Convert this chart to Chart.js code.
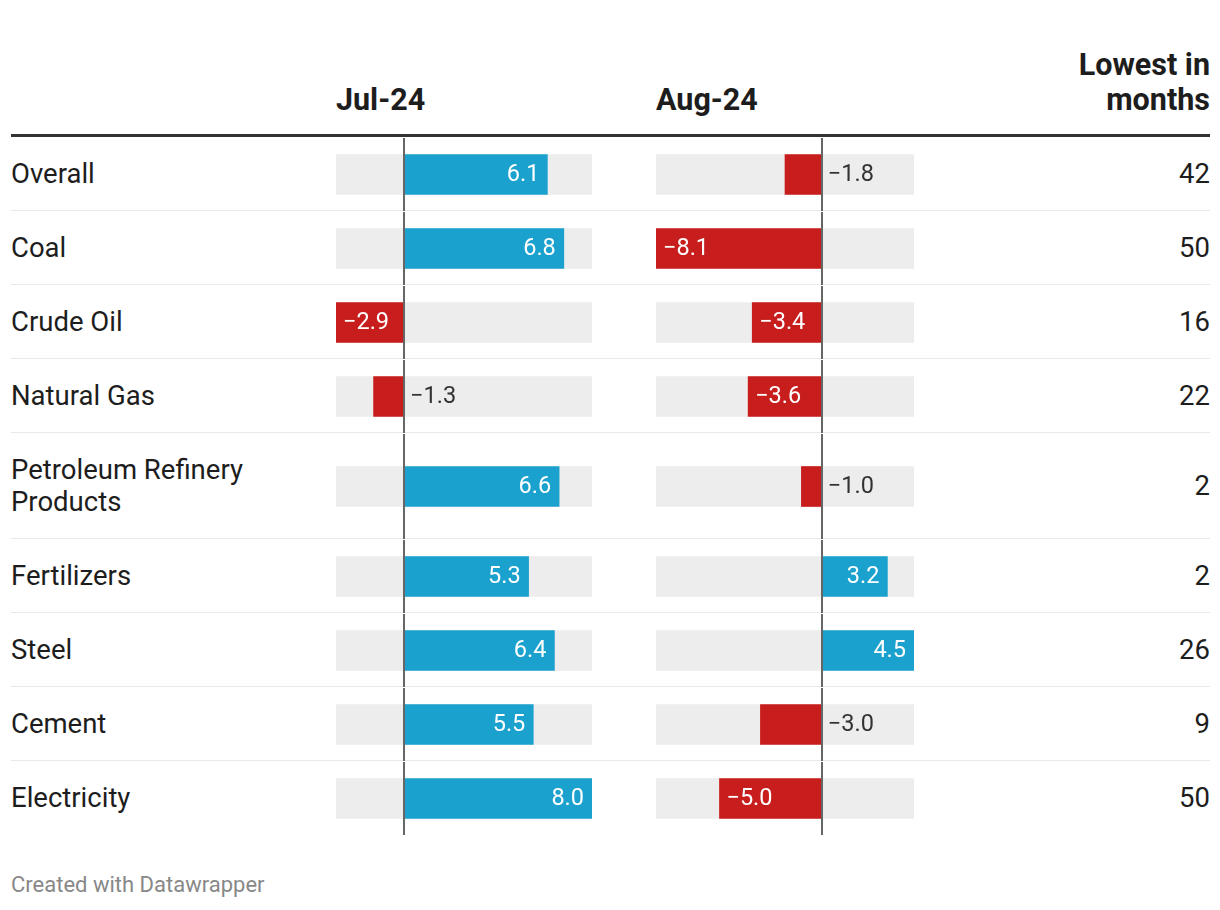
<!DOCTYPE html>
<html>
<head>
<meta charset="utf-8">
<script src="https://cdn.jsdelivr.net/npm/chart.js@4.4.1/dist/chart.umd.min.js"></script>
<style>
  body { margin: 0; background: #fff; font-family: Roboto, sans-serif; color: #1d1d1d; }
  #wrap { position: absolute; left: 11px; top: 0; width: 1199px; }
  .head { display: flex; align-items: flex-end; height: 117px; padding-bottom: 17px; border-bottom: 3px solid #333; }
  .head div { font-weight: 700; font-size: 30.5px; line-height: 35px; }
  .row { display: flex; border-bottom: 1px solid #e9e9e9; }
  .row:last-child { border-bottom: none; }
  .lab { width: 325px; font-size: 27.5px; line-height: 32px; padding: 21px 0 20px; }
  .lab span { display: block; max-width: 290px; }
  .c-jul { width: 256px; }
  .gap { width: 64px; }
  .c-aug { width: 258px; }
  .num { flex: 1; font-size: 27.5px; display: flex; align-items: center; justify-content: flex-end; }
  .cell { position: relative; }
  .cell .in { position: absolute; left: 0; top: 1px; right: 0; bottom: -1px; }
  .foot { margin-top: 38px; font-size: 22px; color: #888; }
</style>
</head>
<body>
<div id="wrap">
  <div class="head">
    <div style="width:325px"></div>
    <div class="c-jul" id="h1"></div>
    <div class="gap"></div>
    <div class="c-aug" id="h2"></div>
    <div style="flex:1;text-align:right" id="h3"></div>
  </div>
  <div id="rows"></div>
  <div class="foot">Created with Datawrapper</div>
</div>
<script>
const categories = ['Overall', 'Coal', 'Crude Oil', 'Natural Gas', 'Petroleum Refinery Products',
  'Fertilizers', 'Steel', 'Cement', 'Electricity'];
const jul24 = [6.1, 6.8, -2.9, -1.3, 6.6, 5.3, 6.4, 5.5, 8.0];
const aug24 = [-1.8, -8.1, -3.4, -3.6, -1.0, 3.2, 4.5, -3.0, -5.0];
const lowestInMonths = [42, 50, 16, 22, 2, 2, 26, 9, 50];

document.getElementById('h1').textContent = 'Jul-24';
document.getElementById('h2').textContent = 'Aug-24';
document.getElementById('h3').innerHTML = 'Lowest in<br>months';

const blue = '#1aa1cd';
const red = '#c71e1d';
const track = '#ededed';

function fmt(v) {
  const s = Math.abs(v).toFixed(1);
  return v < 0 ? '\u2212' + s : s;
}

// zero line + value label on each little bar chart
const barLook = {
  id: 'barLook',
  afterDatasetsDraw(chart) {
    const ctx = chart.ctx;
    const x = chart.scales.x;
    const area = chart.chartArea;
    const zx = Math.round(x.getPixelForValue(0));
    ctx.save();
    ctx.strokeStyle = '#666';
    ctx.lineWidth = 2;
    ctx.beginPath();
    ctx.moveTo(zx, area.top - 1);
    ctx.lineTo(zx, area.bottom + 1);
    ctx.stroke();

    const bar = chart.getDatasetMeta(0).data[0];
    const v = chart.data.datasets[0].data[0];
    const txt = fmt(v);
    ctx.font = '400 23.5px Roboto';
    ctx.textBaseline = 'middle';
    const w = ctx.measureText(txt).width;
    const len = Math.abs(bar.x - bar.base);
    if (len > w + 16) {
      ctx.fillStyle = '#fff';
      if (v >= 0) { ctx.textAlign = 'right'; ctx.fillText(txt, bar.x - 8, bar.y + 1); }
      else { ctx.textAlign = 'left'; ctx.fillText(txt, bar.x + 7, bar.y + 1); }
    } else {
      ctx.fillStyle = '#333';
      ctx.textAlign = 'left';
      ctx.fillText(txt, (v >= 0 ? bar.x : bar.base) + 6, bar.y + 1);
    }
    ctx.restore();
  }
};

function makeBar(el, label, value, values) {
  const lo = Math.min(0, ...values);
  const hi = Math.max(0, ...values);
  new Chart(el, {
    type: 'bar',
    data: {
      labels: [label],
      datasets: [
        { data: [value], backgroundColor: value < 0 ? red : blue, order: 1 },
        { data: [[lo, hi]], backgroundColor: track, order: 2 }
      ]
    },
    options: {
      indexAxis: 'y',
      responsive: true,
      maintainAspectRatio: false,
      animation: false,
      layout: { padding: 0 },
      datasets: { bar: { grouped: false, barThickness: 40, borderWidth: 0 } },
      scales: {
        x: { display: false, min: lo, max: hi },
        y: { display: false }
      },
      plugins: { legend: { display: false }, tooltip: { enabled: false } }
    },
    plugins: [barLook]
  });
}

const rows = document.getElementById('rows');
categories.forEach((cat, i) => {
  const row = document.createElement('div');
  row.className = 'row';
  row.innerHTML =
    '<div class="lab"><span>' + cat + '</span></div>' +
    '<div class="cell c-jul"><div class="in"><canvas></canvas></div></div>' +
    '<div class="gap"></div>' +
    '<div class="cell c-aug"><div class="in"><canvas></canvas></div></div>' +
    '<div class="num">' + lowestInMonths[i] + '</div>';
  rows.appendChild(row);
  const cv = row.querySelectorAll('canvas');
  makeBar(cv[0], cat, jul24[i], jul24);
  makeBar(cv[1], cat, aug24[i], aug24);
});
</script>
</body>
</html>
